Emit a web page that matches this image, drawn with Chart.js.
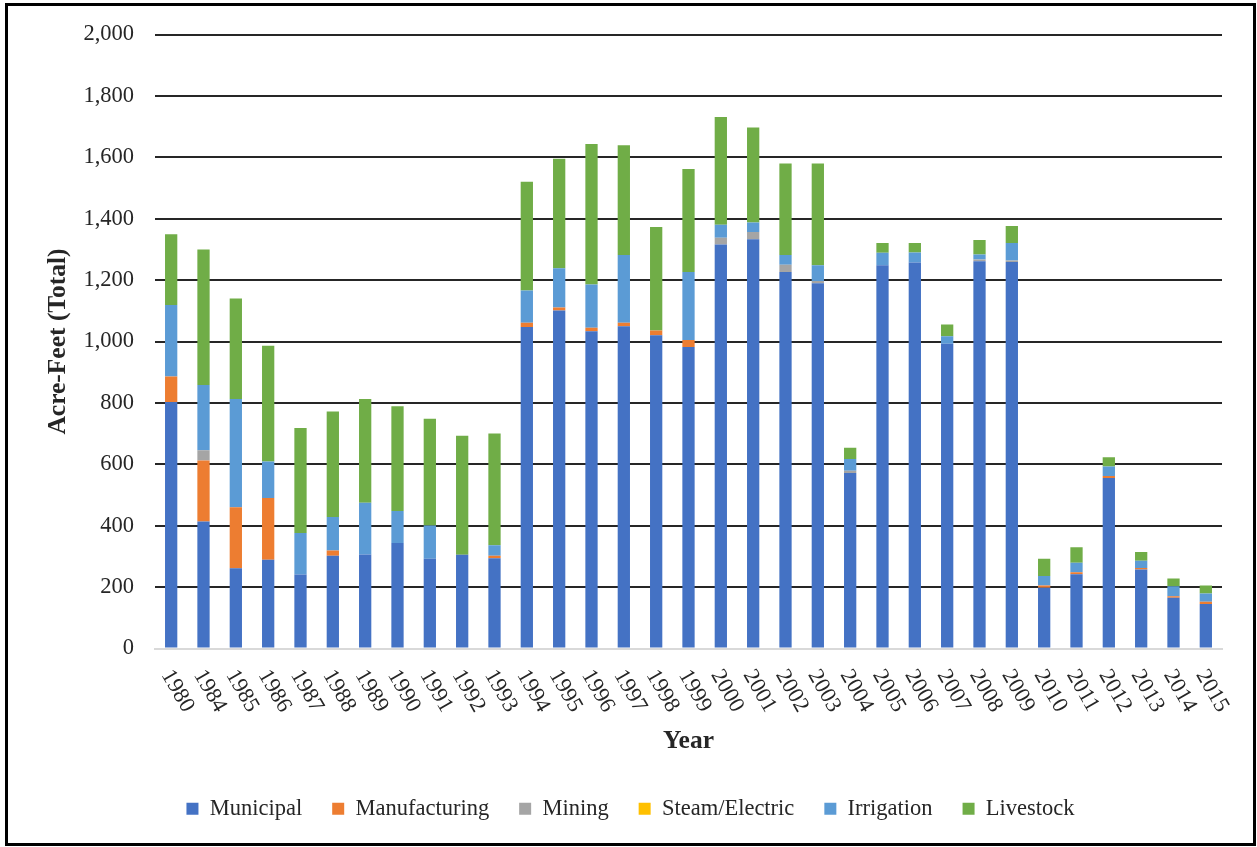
<!DOCTYPE html>
<html>
<head>
<meta charset="utf-8">
<script src="https://cdn.jsdelivr.net/npm/chart.js@4.4.0/dist/chart.umd.min.js"></script>
<style>
    html, body { margin: 0; padding: 0; background: #fff; }
    #wrap { width: 1257px; height: 847px; }
</style>
</head>
<body>
<div id="wrap"><canvas id="chart1" width="1257" height="847"></canvas></div>
<script>
var years = ['1980', '1984', '1985', '1986', '1987', '1988', '1989', '1990', '1991', '1992', '1993',
    '1994', '1995', '1996', '1997', '1998', '1999', '2000', '2001', '2002', '2003',
    '2004', '2005', '2006', '2007', '2008', '2009', '2010', '2011', '2012', '2013', '2014', '2015'];

var municipal = [803, 414, 261, 289, 241, 302, 306, 344, 292, 305, 294,
    1047, 1101, 1033, 1050, 1020, 982, 1316, 1333, 1226, 1190,
    572, 1248, 1257, 993, 1261, 1259, 198, 242, 555, 257, 165, 145];
var manufacturing = [83, 198, 199, 201, 0, 17, 0, 0, 0, 0, 8,
    14, 10, 12, 11, 16, 23, 0, 0, 0, 0,
    0, 0, 0, 0, 0, 0, 7, 6, 7, 5, 5, 7];
var mining = [0, 34, 0, 0, 0, 0, 0, 0, 0, 0, 0,
    0, 0, 0, 0, 0, 0, 22, 24, 24, 7,
    7, 0, 0, 0, 6, 5, 0, 0, 0, 0, 0, 0];
var steamElectric = [0, 0, 0, 0, 0, 0, 0, 0, 0, 0, 0,
    0, 0, 0, 0, 0, 0, 0, 0, 0, 0,
    0, 0, 0, 0, 0, 0, 0, 0, 0, 0, 0, 0];
var irrigation = [233, 212, 353, 119, 135, 109, 169, 104, 109, 0, 34,
    105, 128, 141, 221, 0, 221, 42, 31, 32, 51,
    38, 41, 33, 24, 16, 57, 31, 31, 31, 24, 33, 27];
var livestock = [230, 442, 327, 377, 342, 344, 338, 341, 347, 388, 364,
    354, 356, 457, 357, 337, 336, 351, 309, 298, 332,
    37, 32, 31, 38, 48, 55, 56, 51, 30, 28, 25, 26];

var serif = '"Liberation Serif", "Times New Roman", serif';
var textColor = '#262626';

// white page + black frame around the picture
var framePlugin = {
    id: 'frame',
    beforeDraw: function (chart) {
        var ctx = chart.ctx;
        ctx.save();
        ctx.fillStyle = '#fff';
        ctx.fillRect(0, 0, chart.width, chart.height);
        ctx.strokeStyle = '#000';
        ctx.lineWidth = 3;
        ctx.strokeRect(6.5, 4.5, 1248, 840);
        ctx.restore();
    }
};

// year labels slanted down to the right, like the original
var yearLabels = {
    id: 'yearLabels',
    afterDraw: function (chart) {
        var xs = chart.scales.x;
        var ctx = chart.ctx;
        ctx.save();
        ctx.font = '22.5px ' + serif;
        ctx.fillStyle = textColor;
        ctx.textAlign = 'left';
        ctx.textBaseline = 'middle';
        years.forEach(function (label, i) {
            var px = xs.getPixelForTick(i);
            ctx.save();
            ctx.translate(px - 5, xs.top + 23);
            ctx.rotate(Math.PI / 3);
            ctx.fillText(label, 0, 0);
            ctx.restore();
        });
        ctx.restore();
    }
};

function series(label, data, color) {
    return {
        label: label,
        data: data,
        backgroundColor: color,
        borderWidth: 0,
        categoryPercentage: 1,
        barPercentage: 0.38
    };
}

var ctx1 = document.getElementById('chart1').getContext('2d');
var chart1 = new Chart(ctx1, {
    type: 'bar',
    data: {
        labels: years,
        datasets: [
            series('Municipal', municipal, '#4472C4'),
            series('Manufacturing', manufacturing, '#ED7D31'),
            series('Mining', mining, '#A5A5A5'),
            series('Steam/Electric', steamElectric, '#FFC000'),
            series('Irrigation', irrigation, '#5B9BD5'),
            series('Livestock', livestock, '#70AD47')
        ]
    },
    options: {
        responsive: false,
        animation: false,
        layout: { padding: { left: 39, right: 35, top: 34, bottom: 17 } },
        plugins: {
            tooltip: { enabled: false },
            legend: {
                position: 'bottom',
                labels: {
                    font: { family: serif, size: 22.5 },
                    color: textColor,
                    boxWidth: 12,
                    boxHeight: 12,
                    padding: 30
                }
            }
        },
        scales: {
            x: {
                stacked: true,
                grid: { display: false },
                border: { display: true, color: '#d9d9d9', width: 2 },
                ticks: { display: false },
                title: {
                    display: true,
                    text: 'Year',
                    color: textColor,
                    font: { family: serif, size: 25.5, weight: 'bold' },
                    padding: { top: 0, bottom: 11 }
                },
                afterFit: function (scale) { scale.height = 119; }
            },
            y: {
                stacked: true,
                min: 0,
                max: 2000,
                border: { display: false },
                grid: {
                    color: function (c) { return c.tick.value === 0 ? '#d9d9d9' : '#262626'; },
                    lineWidth: 2,
                    drawTicks: false
                },
                ticks: {
                    stepSize: 200,
                    padding: 21,
                    color: textColor,
                    font: { family: serif, size: 22.5 },
                    callback: function (v) { return v.toLocaleString('en-US'); }
                },
                title: {
                    display: true,
                    text: 'Acre-Feet (Total)',
                    color: textColor,
                    font: { family: serif, size: 25.5, weight: 'bold' },
                    padding: { top: 4, bottom: 4 }
                },
                afterFit: function (scale) { scale.width = 116; }
            }
        }
    },
    plugins: [framePlugin, yearLabels]
});
</script>
</body>
</html>
